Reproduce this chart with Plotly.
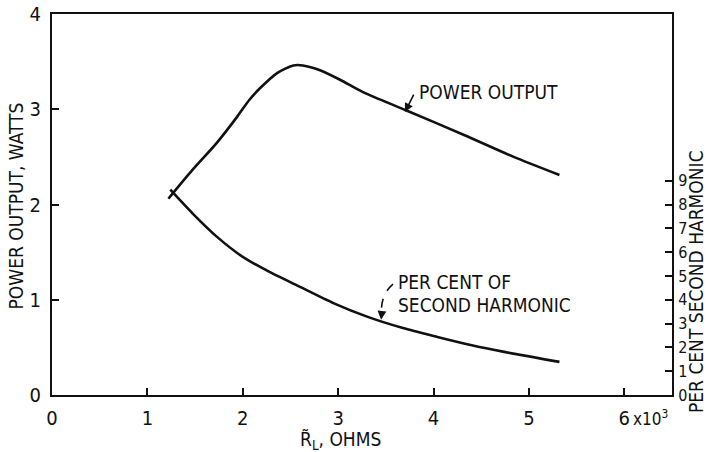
import plotly.graph_objects as go

# ---- data ----
power_x = [1.22, 1.47, 1.73, 1.94, 2.07, 2.18, 2.36, 2.53, 2.63, 2.81, 3.02, 3.26, 3.71, 4.32, 4.84, 5.32]
power_y = [2.06, 2.36, 2.65, 2.92, 3.10, 3.22, 3.38, 3.46, 3.46, 3.41, 3.31, 3.18, 2.99, 2.73, 2.50, 2.31]

harm_x = [1.24, 1.47, 1.73, 2.00, 2.28, 2.60, 2.95, 3.31, 3.68, 4.04, 4.39, 4.74, 5.32]
harm_y = [8.62, 7.64, 6.64, 5.80, 5.17, 4.54, 3.86, 3.28, 2.81, 2.44, 2.10, 1.81, 1.39]

x_ticks = [0, 1, 2, 3, 4, 5, 6]
x_ticktext = ["0", "1", "2", "3", "4", "5", "6"]
y_ticks = [0, 1, 2, 3, 4]
y2_ticks = [0, 1, 2, 3, 4, 5, 6, 7, 8, 9]

FONT = "DejaVu Sans Condensed, Liberation Sans Narrow, sans-serif"
BLACK = "#111111"

fig = go.Figure()
fig.add_trace(go.Scatter(x=power_x, y=power_y, mode="lines",
                         line=dict(color=BLACK, width=2.6, shape="spline", smoothing=0.7),
                         showlegend=False, hoverinfo="skip"))
fig.add_trace(go.Scatter(x=harm_x, y=harm_y, mode="lines", yaxis="y2",
                         line=dict(color=BLACK, width=2.6, shape="spline", smoothing=0.7),
                         showlegend=False, hoverinfo="skip"))

axis_common = dict(showline=True, linecolor=BLACK, linewidth=2, ticks="inside",
                   tickcolor=BLACK, tickwidth=1.5, showgrid=False, zeroline=False,
                   tickfont=dict(family=FONT, size=20, color=BLACK))

fig.update_layout(
    width=707, height=452, autosize=False,
    margin=dict(l=52, r=35, t=14, b=57, autoexpand=False),
    paper_bgcolor="white", plot_bgcolor="white",
    font=dict(family=FONT, color=BLACK, size=19),
    xaxis=dict(range=[0, 6.5], tickvals=x_ticks, ticktext=x_ticktext, ticklen=7,
               mirror=True, ticklabelstandoff=4, **axis_common),
    yaxis=dict(range=[0, 4], tickvals=y_ticks, ticklen=7, ticklabelstandoff=5, **axis_common),
    yaxis2=dict(range=[0, 16], tickvals=y2_ticks, overlaying="y", side="right",
                ticklen=7, ticklabelstandoff=1,
                **{**axis_common, "tickfont": dict(family=FONT, size=16, color=BLACK)}),
)

ann = []
# axis titles
ann.append(dict(text="POWER OUTPUT, WATTS", xref="paper", yref="paper", x=-0.058, y=0.495,
                xanchor="center", yanchor="middle",
                textangle=-90, showarrow=False, font=dict(size=19)))
ann.append(dict(text="PER CENT SECOND HARMONIC", xref="paper", yref="paper", x=1.039, y=0.297,
                xanchor="center", yanchor="middle",
                textangle=-90, showarrow=False, font=dict(size=19)))
ann.append(dict(text="R\u0303<sub>L</sub>, OHMS", xref="paper", yref="paper", x=0.465, y=-0.12,
                xanchor="center", yanchor="middle", showarrow=False, font=dict(size=19)))
ann.append(dict(text="x10<sup>3</sup>", xref="x", yref="paper", x=6.07, y=-0.025,
                xanchor="left", yanchor="top", showarrow=False, font=dict(size=17)))
# curve labels
ann.append(dict(text="POWER OUTPUT", xref="x", yref="y", x=3.83, y=3.18,
                xanchor="left", yanchor="middle", showarrow=False, font=dict(size=19)))
ann.append(dict(text="", xref="x", yref="y", x=3.70, y=2.97, axref="x", ayref="y",
                ax=3.80, ay=3.17, showarrow=True, arrowhead=2, arrowsize=1.1,
                arrowwidth=1.6, arrowcolor=BLACK))
ann.append(dict(text="PER CENT OF", xref="x", yref="y", x=3.61, y=1.19,
                xanchor="left", yanchor="middle", showarrow=False, font=dict(size=19)))
ann.append(dict(text="SECOND HARMONIC", xref="x", yref="y", x=3.61, y=0.95,
                xanchor="left", yanchor="middle", showarrow=False, font=dict(size=19)))
ann.append(dict(text="", xref="x", yref="y", x=3.45, y=0.79, axref="x", ayref="y",
                ax=3.455, ay=0.84, showarrow=True, arrowhead=2, arrowsize=1.1,
                arrowwidth=1.6, arrowcolor=BLACK))
fig.update_layout(annotations=ann)

fig.add_shape(type="path", xref="x", yref="y",
              path="M 3.575,1.165 Q 3.44,1.05 3.455,0.84",
              line=dict(color=BLACK, width=1.6, dash="dash"))

fig.write_html("out.html", config={"displayModeBar": False},
               post_script="document.body.style.margin='0';document.body.style.overflow='hidden';")
